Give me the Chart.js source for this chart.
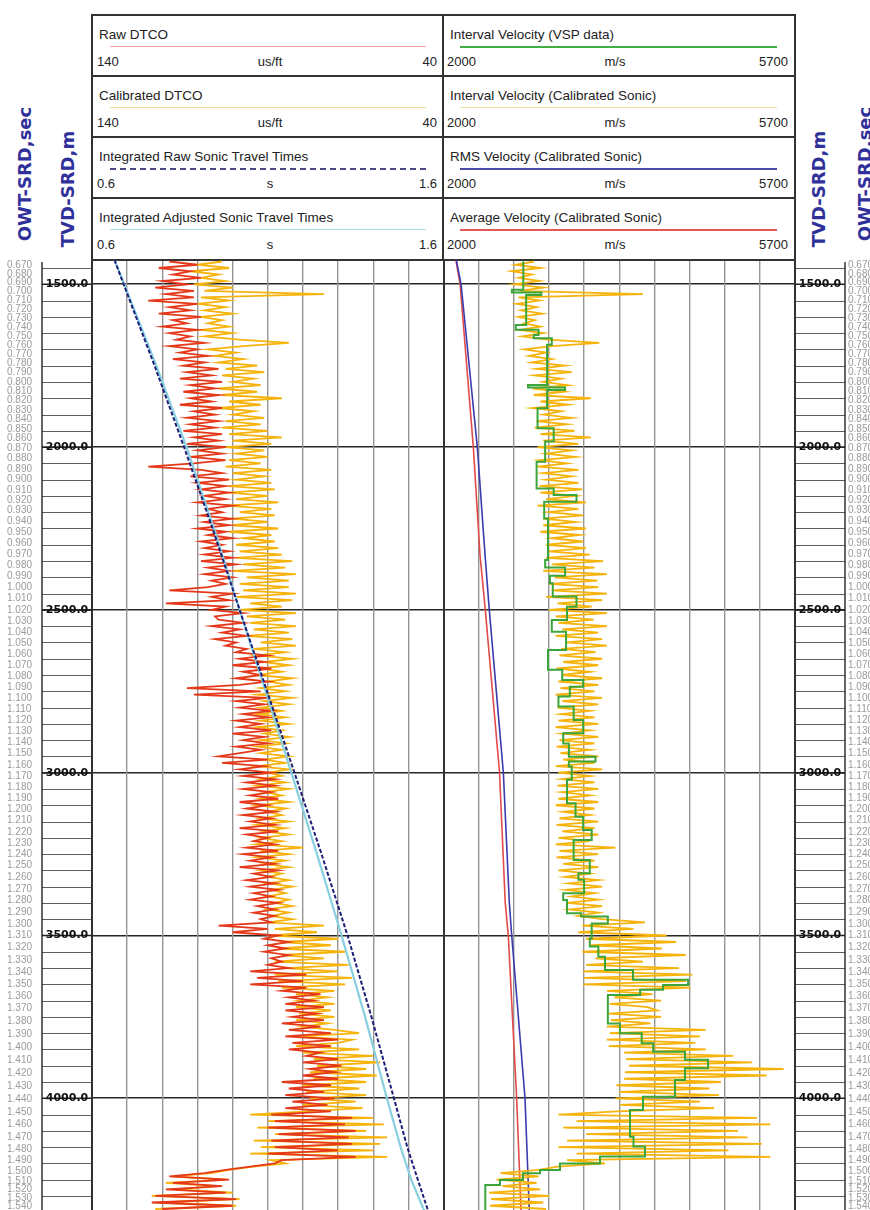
<!DOCTYPE html>
<html><head><meta charset="utf-8">
<script src="https://cdn.jsdelivr.net/npm/chart.js@4.4.1/dist/chart.umd.min.js"></script>
<style>
html,body{margin:0;padding:0;background:#fff;}
#wrap{position:relative;width:870px;height:1210px;overflow:hidden;font-family:"Liberation Sans",Arial,sans-serif;color:#222;}
.panel{position:absolute;box-sizing:border-box;border:2px solid #333;background:#fff;}
.ttl{position:absolute;left:6px;top:11px;font-size:13.5px;line-height:16px;white-space:nowrap;}
.ln{position:absolute;top:30px;height:0;}
.sl,.su,.sr{position:absolute;top:38px;font-size:13px;line-height:16px;white-space:nowrap;}
.p1 .ln{left:17px;width:316px;}
.p1 .sl{left:4px;} .p1 .su{left:177px;transform:translateX(-50%);} .p1 .sr{right:5px;}
.p2 .ln{left:16px;width:317px;}
.p2 .sl{left:3px;} .p2 .su{left:171px;transform:translateX(-50%);} .p2 .sr{right:6px;}
.vt{position:absolute;font:bold 18px "DejaVu Sans",sans-serif;color:#30309a;white-space:nowrap;transform:translate(-50%,-50%) rotate(-90deg);}
#c{position:absolute;left:0;top:250px;}
</style></head>
<body><div id="wrap">
<div class="vt" style="left:24px;top:174px">OWT-SRD,sec</div>
<div class="vt" style="left:67px;top:189px">TVD-SRD,m</div>
<div class="vt" style="left:818px;top:189px">TVD-SRD,m</div>
<div class="vt" style="left:864px;top:174px">OWT-SRD,sec</div>

<div class="panel p1" style="left:91px;top:14px;width:353px;height:63px"><div class="ttl">Raw DTCO</div><div class="ln" style="border-top:1.5px solid #f2a3a6"></div><div class="sl">140</div><div class="su">us/ft</div><div class="sr">40</div></div>
<div class="panel p1" style="left:91px;top:75px;width:353px;height:63px"><div class="ttl">Calibrated DTCO</div><div class="ln" style="border-top:1.5px solid #f4d99c"></div><div class="sl">140</div><div class="su">us/ft</div><div class="sr">40</div></div>
<div class="panel p1" style="left:91px;top:136px;width:353px;height:63px"><div class="ttl">Integrated Raw Sonic Travel Times</div><div class="ln" style="border-top:2px dashed #4a4a86"></div><div class="sl">0.6</div><div class="su">s</div><div class="sr">1.6</div></div>
<div class="panel p1" style="left:91px;top:197px;width:353px;height:64px"><div class="ttl">Integrated Adjusted Sonic Travel Times</div><div class="ln" style="border-top:1.5px solid #a6dbe6"></div><div class="sl">0.6</div><div class="su">s</div><div class="sr">1.6</div></div>

<div class="panel p2" style="left:442px;top:14px;width:354px;height:63px"><div class="ttl">Interval Velocity (VSP data)</div><div class="ln" style="border-top:2px solid #44ad44"></div><div class="sl">2000</div><div class="su">m/s</div><div class="sr">5700</div></div>
<div class="panel p2" style="left:442px;top:75px;width:354px;height:63px"><div class="ttl">Interval Velocity (Calibrated Sonic)</div><div class="ln" style="border-top:1.5px solid #f3dfa4"></div><div class="sl">2000</div><div class="su">m/s</div><div class="sr">5700</div></div>
<div class="panel p2" style="left:442px;top:136px;width:354px;height:63px"><div class="ttl">RMS Velocity (Calibrated Sonic)</div><div class="ln" style="border-top:2px solid #4a4aa2"></div><div class="sl">2000</div><div class="su">m/s</div><div class="sr">5700</div></div>
<div class="panel p2" style="left:442px;top:197px;width:354px;height:64px"><div class="ttl">Average Velocity (Calibrated Sonic)</div><div class="ln" style="border-top:2px solid #e25656"></div><div class="sl">2000</div><div class="su">m/s</div><div class="sr">5700</div></div>

<canvas id="c" width="870" height="960"></canvas>
</div>
<script>
// ---------- depth sampling of the log curves (m) ----------
const depths = [
1430,1440,1450,1460,1470,1480,1490,1500,1510,1520,
1530,1540,1550,1560,1570,1580,1590,1600,1610,1620,
1630,1640,1650,1660,1670,1680,1690,1700,1710,1720,
1730,1740,1750,1760,1770,1780,1790,1800,1810,1820,
1830,1840,1850,1860,1870,1880,1890,1900,1910,1920,
1930,1940,1950,1960,1970,1980,1990,2000,2010,2020,
2030,2040,2050,2060,2070,2080,2090,2100,2110,2120,
2130,2140,2150,2160,2170,2180,2190,2200,2210,2220,
2230,2240,2250,2260,2270,2280,2290,2300,2310,2320,
2330,2340,2350,2360,2370,2380,2390,2400,2410,2420,
2430,2440,2450,2460,2470,2480,2490,2500,2510,2520,
2530,2540,2550,2560,2570,2580,2590,2600,2610,2620,
2630,2640,2650,2660,2670,2680,2690,2700,2710,2720,
2730,2740,2750,2760,2770,2780,2790,2800,2810,2820,
2830,2840,2850,2860,2870,2880,2890,2900,2910,2920,
2930,2940,2950,2960,2970,2980,2990,3000,3010,3020,
3030,3040,3050,3060,3070,3080,3090,3100,3110,3120,
3130,3140,3150,3160,3170,3180,3190,3200,3210,3220,
3230,3240,3250,3260,3270,3280,3290,3300,3310,3320,
3330,3340,3350,3360,3370,3380,3390,3400,3410,3420,
3430,3440,3450,3460,3470,3480,3490,3500,3510,3520,
3530,3540,3550,3560,3570,3580,3590,3600,3610,3620,
3630,3640,3650,3660,3670,3680,3690,3700,3710,3720,
3730,3740,3750,3760,3770,3780,3790,3800,3810,3820,
3830,3840,3850,3860,3870,3880,3890,3900,3910,3920,
3930,3940,3950,3960,3970,3980,3990,4000,4010,4020,
4030,4040,4050,4060,4070,4080,4090,4100,4110,4120,
4130,4140,4150,4160,4170,4180,4190,4200,4210,4220,
4230,4240,4250,4260,4270,4280,4290,4300,4310,4320,
4330,4340];

// Raw DTCO (us/ft)
const rawDTCO = [
118,110,121,112,117,109,120,113,122,111,
119,111,124,110,118,112,121,109,117,113,
120,110,118,112,116,108,118,110,115,107,
117,108,114,104,113,106,115,103,112,105,
114,104,112,106,115,103,111,105,113,104,
112,105,114,103,111,104,113,102,110,103,
112,102,111,124,109,103,112,101,110,102,
109,101,108,102,110,100,107,103,109,100,
108,101,110,102,107,100,109,103,108,101,
108,100,109,99,107,101,108,100,106,102,
107,118,100,106,101,119,102,106,97,105,
104,97,106,98,103,96,105,99,102,96,
99,90,98,91,100,89,97,92,99,90,
98,113,92,111,90,99,91,98,89,97,
90,99,92,98,89,100,91,97,90,99,
92,98,104,90,103,91,98,89,97,88,
96,88,97,89,95,87,98,90,96,88,
97,89,95,88,98,87,96,90,94,88,
96,87,97,89,95,88,98,87,94,89,
96,88,95,87,94,89,95,87,93,88,
94,88,92,89,104,90,100,87,91,84,
90,85,91,84,89,86,90,84,95,79,
93,80,95,79,86,75,84,77,85,74,
85,76,83,74,86,75,84,72,85,70,
83,72,84,75,79,70,80,69,78,71,
80,70,86,72,84,74,85,71,83,73,
85,72,89,66,88,68,90,65,87,67,
89,66,88,70,90,65,86,88,95,102,
108,118,101,117,103,119,102,122,99,123,
100,120];

// Calibrated DTCO (us/ft)
const calDTCO = [
103,110,101,112,104,109,102,111,100,108,
74,109,101,110,102,108,100,109,103,107,
101,109,100,108,98,84,97,107,99,105,
97,104,93,102,91,103,94,100,92,104,
93,103,86,101,92,104,94,100,91,102,
92,103,90,101,86,100,89,102,91,99,
90,101,92,102,89,100,91,99,89,101,
88,101,90,99,87,102,89,98,88,100,
90,100,87,101,89,97,88,99,87,98,
86,99,83,97,85,100,82,96,84,98,
84,97,82,99,83,95,86,98,82,96,
85,95,82,94,84,96,83,92,82,94,
85,93,83,91,84,92,86,93,83,90,
84,92,85,93,83,91,84,92,86,93,
85,92,84,93,86,91,84,92,85,93,
86,92,84,91,85,93,84,90,86,92,
85,93,84,91,86,92,84,93,85,90,
86,92,84,93,85,91,84,92,86,93,
80,92,84,93,85,91,84,92,86,90,
84,90,83,89,85,90,84,88,83,90,
84,89,83,90,74,88,76,89,70,86,
72,87,68,86,74,88,67,85,70,88,
66,87,68,86,71,82,73,81,71,82,
72,81,71,82,73,80,71,64,82,66,
70,82,64,80,60,77,58,76,62,78,
59,77,62,80,64,79,62,78,65,80,
63,79,95,60,90,57,93,62,88,56,
94,58,92,60,95,56,89,85,94,101,
106,117,102,119,104,116,100,123,98,121,
99,122];

// Interval velocity from calibrated sonic (m/s)
const ivCalSonic = [
2950,2760,3020,2720,2930,2790,3010,2740,3050,2800,
4100,2790,3010,2770,2980,2820,3040,2790,2960,2850,
3020,2800,3050,2830,3100,3640,3140,2850,3080,2900,
3140,2930,3280,2980,3350,2960,3240,3050,3310,2940,
3270,2950,3550,3020,3310,2940,3240,3050,3350,2980,
3300,2960,3380,3020,3550,3050,3420,2990,3350,3080,
3390,3020,3300,2990,3420,3050,3350,3080,3420,3010,
3460,3020,3390,3080,3500,2990,3420,3110,3470,3050,
3390,3050,3500,3020,3430,3140,3470,3080,3500,3110,
3540,3080,3680,3140,3590,3050,3720,3170,3620,3110,
3630,3140,3720,3080,3670,3200,3560,3110,3720,3180,
3580,3210,3720,3250,3630,3180,3670,3300,3720,3240,
3600,3220,3670,3260,3630,3190,3540,3250,3670,3210,
3630,3230,3590,3180,3670,3250,3630,3200,3540,3240,
3590,3210,3630,3180,3540,3250,3630,3220,3590,3190,
3540,3230,3630,3260,3590,3180,3670,3210,3540,3250,
3590,3200,3630,3250,3540,3210,3630,3180,3590,3260,
3540,3220,3630,3190,3590,3250,3630,3210,3540,3180,
3810,3220,3630,3190,3590,3260,3630,3210,3540,3280,
3630,3320,3670,3290,3590,3350,3630,3300,3670,3330,
3630,3420,3670,4120,3460,4000,3420,4350,3500,4450,
3550,4300,3460,4550,3600,4100,3500,4480,3470,4620,
3480,4550,3470,4600,3720,4200,3800,4290,3750,4150,
4250,3740,4290,3760,4180,3720,4760,3750,4700,3720,
4650,3740,4760,3900,5050,3920,5250,3950,5580,3910,
5400,3900,4920,3820,4800,3850,4900,3810,4700,3860,
4850,3830,3210,5300,3400,5440,3260,5100,3500,5200,
3300,5350,3210,5000,3400,5440,3300,3700,3200,3000,
2600,3000,2560,2980,2620,3020,2480,3110,2500,3050,
2490,3080];

// VSP interval velocity: top depth of each interval (m) and velocity (m/s)
const vspTop = [1430,1517,1525,1533,1625,1640,1656,1666,1686,1809,1817,1825,1881,1942,1983,2045,2127,2147,2168,2219,
2347,2370,2395,2418,2459,2490,2531,2567,2623,2684,2715,2736,2766,2797,2838,2879,2910,2951,2966,2981,
3022,3094,3135,3176,3207,3268,3309,3329,3370,3391,3432,3442,3463,3509,3534,3565,3606,3636,3652,3667,
3683,3770,3800,3831,3857,3882,3908,3944,3995,4036,4118,4148,4179,4200,4220,4230,4251,4266];
const vspVel = [2840,2720,3030,2870,2760,3000,2950,3140,3090,2890,3280,3090,2990,3160,3070,2980,3160,3400,3060,3100,
3070,3280,3120,3150,3400,3300,3140,3290,3100,3250,3470,3330,3210,3370,3470,3260,3320,3600,3320,3350,
3300,3390,3470,3560,3370,3540,3420,3480,3260,3300,3450,3730,3560,3540,3630,3700,3995,4575,4310,4070,
3730,3857,4086,4207,4542,4785,4542,4437,4100,3963,4000,4121,3647,3226,3016,2837,2595,2440];

// Time-depth table (one-way time, s)
const tdDepth    = [1425,1500,1750,2000,2250,2500,2750,3000,3250,3500,3750,4000,4150,4250,4345];
const tdAdjusted = [0.664,0.692,0.783,0.869,0.947,1.020,1.094,1.167,1.240,1.310,1.377,1.439,1.478,1.508,1.545];
const tdRaw      = [0.664,0.690,0.778,0.862,0.943,1.020,1.098,1.176,1.253,1.327,1.395,1.459,1.497,1.527,1.556];

// RMS and average velocity (m/s)
const velDepth = [1425,1500,2000,2330,2500,3000,3400,3500,4000,4345];
const avgVel   = [2130,2175,2314,2384,2440,2590,2650,2682,2770,2816];
const rmsVel   = [2135,2185,2356,2437,2482,2630,2693,2718,2858,2903];

// Depth-track ticks and labels
const tvdMajor  = [1500,2000,2500,3000,3500,4000];
const tvdLabels = ['1500.0','2000.0','2500.0','3000.0','3500.0','4000.0'];
const tvdMinor  = [1450,1500,1550,1600,1650,1700,1750,1800,1850,1900,1950,2000,2050,2100,2150,2200,2250,2300,2350,2400,
2450,2500,2550,2600,2650,2700,2750,2800,2850,2900,2950,3000,3050,3100,3150,3200,3250,3300,3350,3400,
3450,3500,3550,3600,3650,3700,3750,3800,3850,3900,3950,4000,4050,4100,4150,4200,4250,4300];
const owtTicks = [0.67,0.68,0.69,0.70,0.71,0.72,0.73,0.74,0.75,0.76,0.77,0.78,0.79,0.80,0.81,0.82,0.83,0.84,0.85,0.86,
0.87,0.88,0.89,0.90,0.91,0.92,0.93,0.94,0.95,0.96,0.97,0.98,0.99,1.00,1.01,1.02,1.03,1.04,1.05,1.06,
1.07,1.08,1.09,1.10,1.11,1.12,1.13,1.14,1.15,1.16,1.17,1.18,1.19,1.20,1.21,1.22,1.23,1.24,1.25,1.26,
1.27,1.28,1.29,1.30,1.31,1.32,1.33,1.34,1.35,1.36,1.37,1.38,1.39,1.40,1.41,1.42,1.43,1.44,1.45,1.46,
1.47,1.48,1.49,1.50,1.51,1.52,1.53,1.54];

// ---------- build point tables ----------
function pts(xs, ys) { const n = Math.min(xs.length, ys.length); const o = []; for (let i = 0; i < n; i++) o.push({x: xs[i], y: ys[i]}); return o; }
const DEPTH_MIN = 1425.4, DEPTH_MAX = 4343.1;
const vspPts = [];
for (let i = 0; i < vspTop.length; i++) {
  const bot = i + 1 < vspTop.length ? vspTop[i + 1] : DEPTH_MAX + 5;
  vspPts.push({x: vspVel[i], y: vspTop[i]}, {x: vspVel[i], y: bot});
}
function depthAtTime(t) {
  for (let i = 1; i < tdAdjusted.length; i++) {
    if (t <= tdAdjusted[i]) {
      const f = (t - tdAdjusted[i - 1]) / (tdAdjusted[i] - tdAdjusted[i - 1]);
      return tdDepth[i - 1] + f * (tdDepth[i] - tdDepth[i - 1]);
    }
  }
  return tdDepth[tdDepth.length - 1];
}

const depthTracks = {
  id: 'depthTracks',
  afterDraw(chart) {
    const ctx = chart.ctx, ys = chart.scales.y, a = chart.chartArea;
    const top = a.top + 2, bot = a.bottom;
    ctx.save();
    const cols = [{x0: 42, x1: a.left}, {x0: a.right, x1: 845}];
    cols.forEach(col => {
      ctx.strokeStyle = '#5e5e5e'; ctx.lineWidth = 1;
      ctx.beginPath();
      tvdMinor.forEach(d => { const y = Math.round(ys.getPixelForValue(d)) + 0.5; ctx.moveTo(col.x0, y); ctx.lineTo(col.x1, y); });
      ctx.stroke();
      ctx.strokeStyle = '#333'; ctx.lineWidth = 1.5;
      ctx.beginPath(); ctx.moveTo(col.x0, top); ctx.lineTo(col.x0, bot); ctx.moveTo(col.x1, top); ctx.lineTo(col.x1, bot); ctx.stroke();
      ctx.strokeStyle = '#222'; ctx.lineWidth = 1.6;
      ctx.beginPath();
      tvdMajor.forEach(d => { const y = ys.getPixelForValue(d); ctx.moveTo(col.x0, y); ctx.lineTo(col.x1, y); });
      ctx.stroke();
      ctx.fillStyle = '#111'; ctx.font = 'bold 11px "DejaVu Sans"'; ctx.textAlign = 'center'; ctx.textBaseline = 'middle';
      tvdMajor.forEach((d, i) => ctx.fillText(tvdLabels[i], (col.x0 + col.x1) / 2, ys.getPixelForValue(d)));
    });
    ctx.fillStyle = '#9a9a9a'; ctx.font = '10px "Liberation Sans"'; ctx.textAlign = 'left'; ctx.textBaseline = 'middle';
    owtTicks.forEach(t => {
      const y = ys.getPixelForValue(depthAtTime(t));
      if (y < top + 2 || y > bot) return;
      const s = t.toFixed(3);
      ctx.fillText(s, 7, y); ctx.fillText(s, 848, y);
    });
    ctx.restore();
  }
};

const edge = v => v === 140 || v === 40 || v === -60;
new Chart(document.getElementById('c'), {
  type: 'line',
  data: { datasets: [
    {label: 'Integrated Raw Sonic Travel Times', data: pts(tdRaw, tdDepth), xAxisID: 'xt', yAxisID: 'y', borderColor: '#1e1e78', borderWidth: 2, borderDash: [4, 2], order: 0},
    {label: 'Integrated Adjusted Sonic Travel Times', data: pts(tdAdjusted, tdDepth), xAxisID: 'xt', yAxisID: 'y', borderColor: '#88d0e0', borderWidth: 2.2, order: 1},
    {label: 'Raw DTCO', data: pts(rawDTCO, depths), xAxisID: 'xdt', yAxisID: 'y', borderColor: '#e5381a', borderWidth: 1.8, order: 2},
    {label: 'Calibrated DTCO', data: pts(calDTCO, depths), xAxisID: 'xdt', yAxisID: 'y', borderColor: '#f6b30c', borderWidth: 1.8, order: 3},
    {label: 'Interval Velocity (VSP data)', data: vspPts, xAxisID: 'xv', yAxisID: 'y', borderColor: '#3ba53b', borderWidth: 2, order: 4},
    {label: 'Interval Velocity (Calibrated Sonic)', data: pts(ivCalSonic, depths), xAxisID: 'xv', yAxisID: 'y', borderColor: '#f6b30c', borderWidth: 1.8, order: 5},
    {label: 'RMS Velocity (Calibrated Sonic)', data: pts(rmsVel, velDepth), xAxisID: 'xv', yAxisID: 'y', borderColor: '#3b3bb0', borderWidth: 1.6, order: 6},
    {label: 'Average Velocity (Calibrated Sonic)', data: pts(avgVel, velDepth), xAxisID: 'xv', yAxisID: 'y', borderColor: '#e24b4b', borderWidth: 1.6, order: 7}
  ]},
  options: {
    indexAxis: 'y',
    responsive: false, animation: false, devicePixelRatio: 1,
    layout: {padding: {left: 92, right: 75, top: 10, bottom: 0}},
    elements: {point: {radius: 0, hitRadius: 0}, line: {tension: 0, fill: false}},
    plugins: {legend: {display: false}, tooltip: {enabled: false}},
    scales: {
      y: {type: 'linear', axis: 'y', min: DEPTH_MIN, max: DEPTH_MAX, reverse: true,
          ticks: {display: false}, grid: {drawTicks: false, color: '#262626', lineWidth: 1.6}, border: {display: false},
          afterBuildTicks: s => { s.ticks = tvdMajor.map(v => ({value: v})); }},
      xdt: {type: 'linear', axis: 'x', position: 'top', min: -60, max: 140, reverse: true,
          ticks: {display: false, stepSize: 10},
          grid: {drawTicks: false, color: c => edge(c.tick && c.tick.value) ? '#333' : '#959595', lineWidth: c => edge(c.tick && c.tick.value) ? 2 : 1.4},
          border: {display: true, color: '#333', width: 2}},
      xt: {type: 'linear', axis: 'x', display: false, min: 0.6, max: 2.6},
      xv: {type: 'linear', axis: 'x', display: false, min: -1700, max: 5700}
    }
  },
  plugins: [depthTracks]
});
</script>
</body></html>
